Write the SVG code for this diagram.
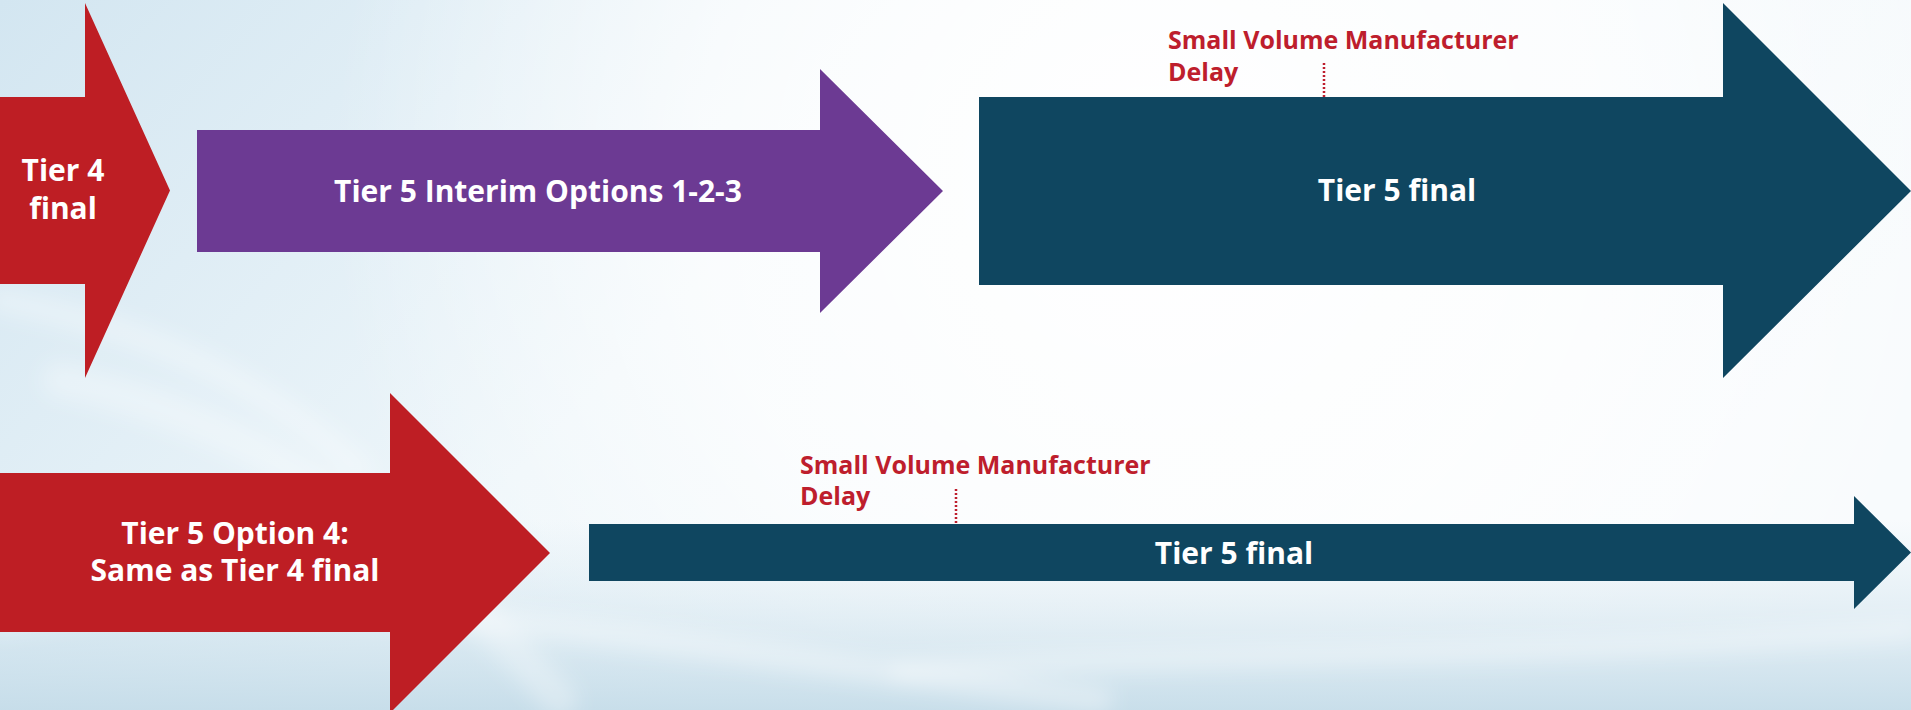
<svg xmlns="http://www.w3.org/2000/svg" width="1911" height="710" viewBox="0 0 1911 710">
  <defs>
    <linearGradient id="bgBase" x1="0" y1="0" x2="1" y2="0.35">
      <stop offset="0" stop-color="#d3e6f1"/>
      <stop offset="0.45" stop-color="#eef6fa"/>
      <stop offset="1" stop-color="#f8fbfd"/>
    </linearGradient>
    <radialGradient id="glow" cx="1150" cy="180" r="820" gradientUnits="userSpaceOnUse">
      <stop offset="0" stop-color="#ffffff" stop-opacity="1"/>
      <stop offset="0.55" stop-color="#ffffff" stop-opacity="0.7"/>
      <stop offset="1" stop-color="#ffffff" stop-opacity="0"/>
    </radialGradient>
    <linearGradient id="lowBand" x1="0" y1="0" x2="0" y2="1">
      <stop offset="0" stop-color="#cfe3ee" stop-opacity="0"/>
      <stop offset="1" stop-color="#c3dbe8" stop-opacity="0.9"/>
    </linearGradient>
    <filter id="soft" x="-10%" y="-10%" width="120%" height="120%">
      <feGaussianBlur stdDeviation="10"/>
    </filter>
    <style>
      .lbl { font-family: "Open Sans", Lato, "Liberation Sans", sans-serif; font-weight: 700; fill: #ffffff; font-size: 30px; text-anchor: middle; }
      .note { font-family: "Open Sans", Lato, "Liberation Sans", sans-serif; font-weight: 700; fill: #be1e2d; font-size: 25px; }
      .red { fill: #be1e24; }
      .purple { fill: #6c3a93; }
      .teal { fill: #0f4660; }
      .tick { stroke: #be1e2d; stroke-width: 2.5; stroke-dasharray: 2 2; fill: none; }
      .streak { fill: none; stroke: #ffffff; stroke-linecap: round; }
    </style>
  </defs>

  <!-- soft sky backdrop -->
  <g id="background">
    <rect width="1911" height="710" fill="url(#bgBase)"/>
    <rect width="1911" height="710" fill="url(#glow)"/>
    <rect x="0" y="520" width="1911" height="190" fill="url(#lowBand)"/>
    <g filter="url(#soft)">
      <path class="streak" d="M0,620 C300,570 700,650 1100,700" stroke-width="26" stroke-opacity="0.35"/>
      <path class="streak" d="M60,380 C250,420 400,520 560,700" stroke-width="36" stroke-opacity="0.3"/>
      <path class="streak" d="M0,300 C150,330 260,380 360,470" stroke-width="26" stroke-opacity="0.3"/>
      <path class="streak" d="M900,670 C1200,650 1500,660 1911,630" stroke-width="20" stroke-opacity="0.35"/>
    </g>
  </g>

  <g id="tier4-final">
    <polygon class="red" points="0,97 85,97 85,3 170,190.5 85,378 85,284 0,284"/>
    <text class="lbl" x="63" y="181">Tier 4</text>
    <text class="lbl" x="63" y="219">final</text>
  </g>

  <g id="tier5-interim">
    <polygon class="purple" points="197,130 820,130 820,69 943,191 820,313 820,252 197,252"/>
    <text class="lbl" x="538" y="202">Tier 5 Interim Options 1-2-3</text>
  </g>

  <g id="tier5-final-top">
    <polygon class="teal" points="979,97 1723,97 1723,3 1911,191 1723,378 1723,285 979,285"/>
    <text class="lbl" x="1397" y="201">Tier 5 final</text>
  </g>

  <g id="delay-top">
    <text class="note" x="1168" y="49">Small Volume Manufacturer</text>
    <text class="note" x="1168" y="81">Delay</text>
  </g>

  <g id="tier5-option4">
    <polygon class="red" points="0,473 390,473 390,393 550,553 390,713 390,632 0,632"/>
    <text class="lbl" x="235" y="544">Tier 5 Option 4:</text>
    <text class="lbl" x="235" y="581">Same as Tier 4 final</text>
  </g>

  <g id="tier5-final-bottom">
    <polygon class="teal" points="589,524 1854,524 1854,496 1911,552.5 1854,609 1854,581 589,581"/>
    <text class="lbl" x="1234" y="564">Tier 5 final</text>
  </g>

  <g id="delay-bottom">
    <text class="note" x="800" y="474">Small Volume Manufacturer</text>
    <text class="note" x="800" y="505">Delay</text>
  </g>

  <!-- dotted delay markers -->
  <g id="connectors">
    <line class="tick" x1="1324" y1="63" x2="1324" y2="97"/>
    <line class="tick" x1="956" y1="489" x2="956" y2="524"/>
  </g>
</svg>
